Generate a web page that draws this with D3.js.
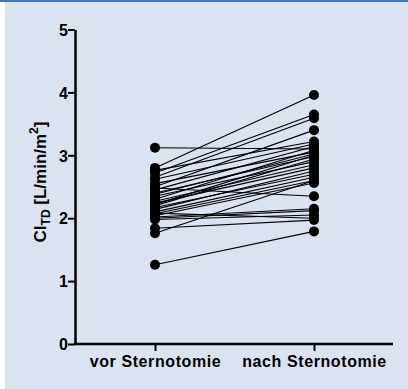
<!DOCTYPE html>
<html><head><meta charset="utf-8">
<script src="https://cdn.jsdelivr.net/npm/d3@7"></script>
<style>
html,body{margin:0;padding:0;background:#fff;}
svg{display:block;}
text{font-family:"Liberation Sans",Arial,sans-serif;font-weight:bold;fill:#000;}
</style></head>
<body>
<script>
const categories = ["vor Sternotomie", "nach Sternotomie"];
const vorValues  = [3.12,2.80,2.72,2.65,2.50,2.76,2.62,2.55,2.45,2.40,2.38,2.35,2.30,2.27,2.24,2.20,2.17,2.14,2.10,2.07,2.04,2.48,2.02,2.00,1.98,1.84,1.76,1.26,2.08,2.22];
const nachValues = [3.10,3.96,3.65,3.59,3.40,3.22,3.18,3.05,3.14,2.98,3.02,2.90,3.08,2.85,2.80,2.94,2.70,2.75,2.65,2.60,2.56,2.35,2.15,2.12,2.05,1.97,2.60,1.79,2.00,3.00];
const yTicks = [0,1,2,3,4,5];

const W = 408, H = 389;
const svg = d3.select("body").append("svg").attr("width", W).attr("height", H);
svg.append("rect").attr("x",5).attr("y",0).attr("width",W-5).attr("height",H).attr("fill","#dbe2f0");
svg.append("rect").attr("x",0).attr("y",0).attr("width",W).attr("height",2).attr("fill","#4a70b8");

const x0 = 75, x1 = 393, yTop = 29.5, yBot = 344;
const y = d3.scaleLinear().domain([0,5]).range([yBot, yTop]);
const x = d3.scalePoint().domain(categories).range([155, 314]);

// connecting lines
const pairs = vorValues.map((v,i)=>[v, nachValues[i]]);
svg.append("g").selectAll("line").data(pairs).join("line")
  .attr("x1", x(categories[0])).attr("x2", x(categories[1]))
  .attr("y1", d=>y(d[0])).attr("y2", d=>y(d[1]))
  .attr("stroke","#000").attr("stroke-width",1.1);

// dots
const dots = svg.append("g");
dots.selectAll("circle.v").data(vorValues).join("circle").attr("class","v")
  .attr("cx", x(categories[0])).attr("cy", d=>y(d)).attr("r",5).attr("fill","#000");
dots.selectAll("circle.n").data(nachValues).join("circle").attr("class","n")
  .attr("cx", x(categories[1])).attr("cy", d=>y(d)).attr("r",5).attr("fill","#000");

// y axis
const yAxis = svg.append("g").attr("transform",`translate(${x0},0)`)
  .call(d3.axisLeft(y).tickValues(yTicks).tickFormat(d3.format("d")).tickSize(7).tickSizeOuter(0));
yAxis.select(".domain").attr("stroke","#000").attr("stroke-width",2.5);
yAxis.selectAll(".tick line").attr("stroke","#000").attr("stroke-width",2);
yAxis.selectAll(".tick text").attr("font-size",16).attr("x",-7).attr("dy","0.36em").attr("fill","#000");

// x axis
svg.append("line").attr("x1",x0-1).attr("x2",x1).attr("y1",yBot).attr("y2",yBot).attr("stroke","#000").attr("stroke-width",2.5);
const xAxis = svg.append("g").attr("transform",`translate(0,${yBot})`)
  .call(d3.axisBottom(x).tickSize(7).tickSizeOuter(0));
xAxis.select(".domain").remove();
xAxis.selectAll(".tick line").attr("stroke","#000").attr("stroke-width",2);
xAxis.selectAll(".tick text").attr("font-size",16).attr("fill","#000")
  .attr("y",12).attr("letter-spacing",0.6);

// y label
const lab = svg.append("text").attr("transform","translate(46,182) rotate(-90)").attr("text-anchor","middle").attr("font-size",17);
lab.append("tspan").text("CI");
lab.append("tspan").attr("font-size",12).attr("dy",4).text("TD");
lab.append("tspan").attr("dy",-4).text(" [L/min/m");
lab.append("tspan").attr("font-size",12).attr("dy",-8).text("2");
lab.append("tspan").attr("dy",8).text("]");
</script>
</body></html>
